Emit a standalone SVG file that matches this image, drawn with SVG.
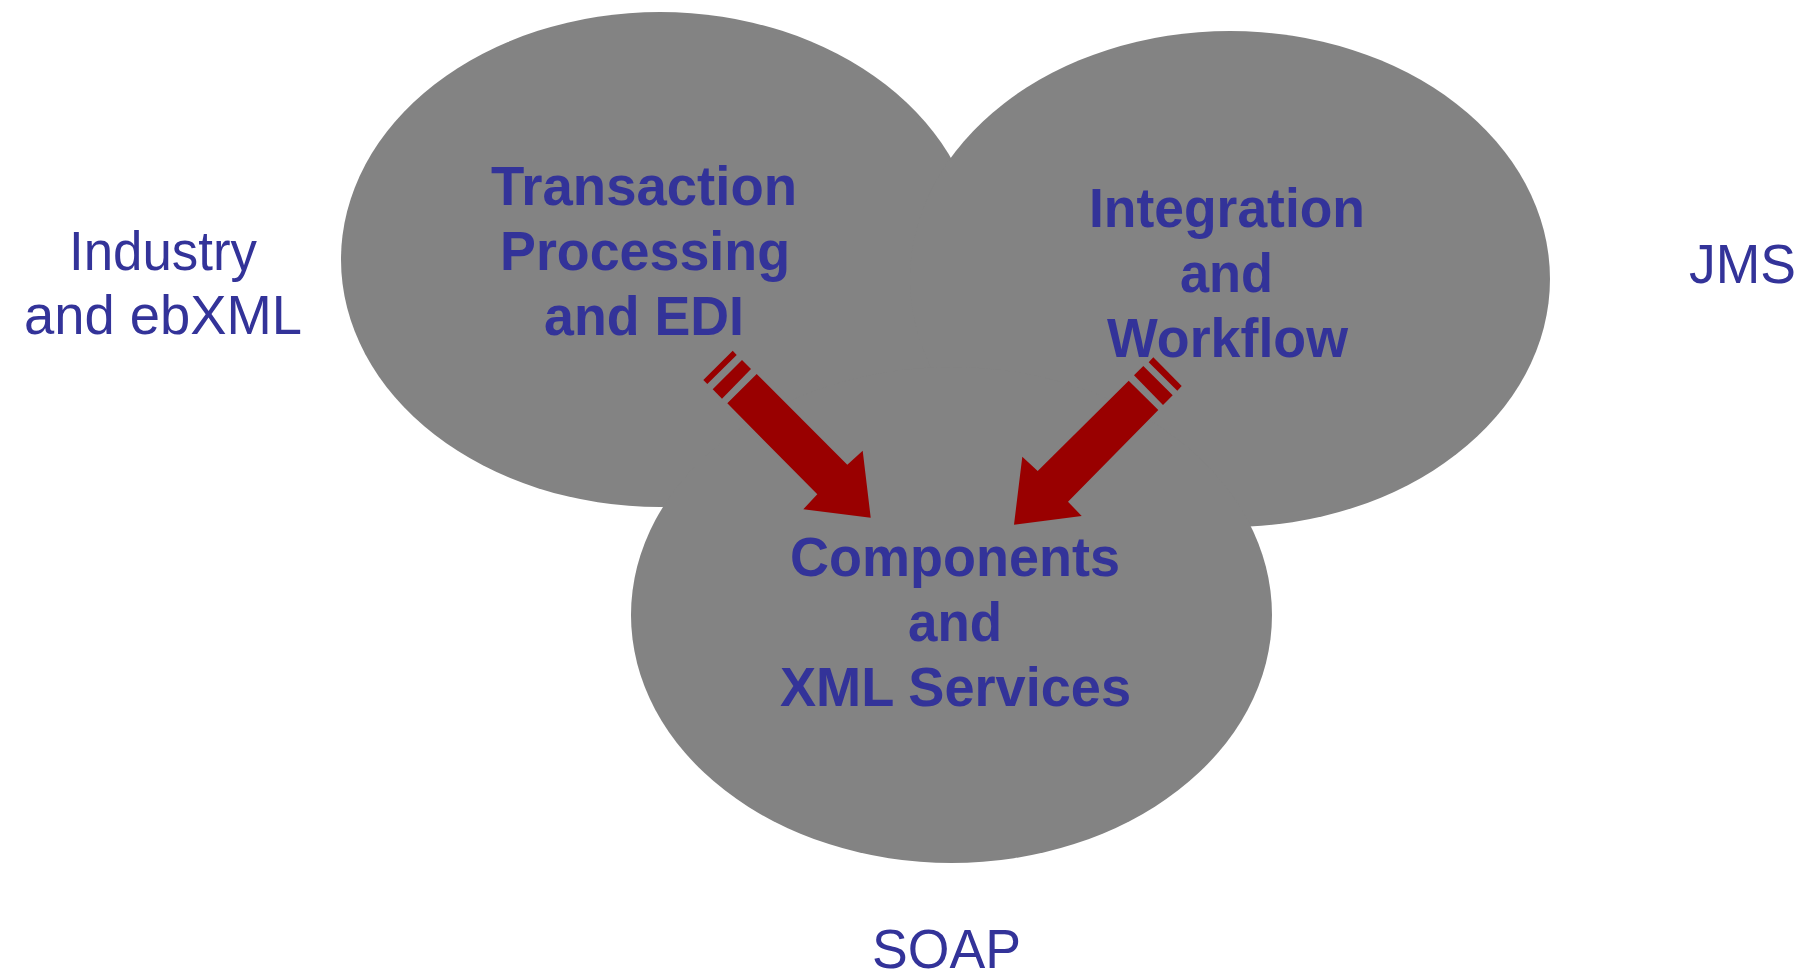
<svg xmlns="http://www.w3.org/2000/svg" width="1806" height="971" viewBox="0 0 1806 971">
<style>
.blob{fill:#838383;}
.t{font-family:"Liberation Sans",Arial,sans-serif;font-size:56px;fill:#333399;}
.b{font-weight:bold;}
.arr{fill:#990000;}
</style>
<rect width="1806" height="971" fill="#ffffff"/>
<g id="node-transaction">
<ellipse class="blob" cx="660" cy="259.5" rx="319" ry="247.5"/>
</g>
<g id="node-integration">
<ellipse class="blob" cx="1230" cy="279" rx="320" ry="248"/>
</g>
<g id="node-components">
<ellipse class="blob" cx="951.5" cy="615" rx="320.5" ry="248"/>
</g>
<g id="labels-inner">
<text class="t b" x="491" y="205" textLength="306" lengthAdjust="spacingAndGlyphs">Transaction</text>
<text class="t b" x="500" y="270" textLength="290" lengthAdjust="spacingAndGlyphs">Processing</text>
<text class="t b" x="544" y="335" textLength="200" lengthAdjust="spacingAndGlyphs">and EDI</text>
<text class="t b" x="1089" y="227" textLength="276" lengthAdjust="spacingAndGlyphs">Integration</text>
<text class="t b" x="1180" y="292" textLength="93" lengthAdjust="spacingAndGlyphs">and</text>
<text class="t b" x="1107" y="357" textLength="241" lengthAdjust="spacingAndGlyphs">Workflow</text>
<text class="t b" x="790" y="576" textLength="330" lengthAdjust="spacingAndGlyphs">Components</text>
<text class="t b" x="908" y="641" textLength="94" lengthAdjust="spacingAndGlyphs">and</text>
<text class="t b" x="780" y="706" textLength="351" lengthAdjust="spacingAndGlyphs">XML Services</text>
</g>
<g id="node-industry">
<text class="t" x="69" y="270" textLength="188" lengthAdjust="spacingAndGlyphs">Industry</text>
<text class="t" x="24" y="334" textLength="278" lengthAdjust="spacingAndGlyphs">and ebXML</text>
</g>
<g id="node-jms">
<text class="t" x="1689" y="283" textLength="107" lengthAdjust="spacingAndGlyphs">JMS</text>
</g>
<g id="node-soap">
<text class="t" x="872" y="968" textLength="149" lengthAdjust="spacingAndGlyphs">SOAP</text>
</g>
<g id="connectors">
<g id="arrow-left">
<polygon class="arr" points="703.3,380 732.7,350.7 736.7,355 707.3,384"/>
<polygon class="arr" points="712.7,389.3 742,360 751,369 722,398.7"/>
<polygon class="arr" points="727.3,403.3 756.7,374 847.3,464.7 862.7,450.7 870.7,517.7 803.3,509.3 817.3,494.3"/>
</g>
<g id="arrow-right">
<polygon class="arr" points="1153.3,357.3 1181.7,386 1177.3,390.7 1148.7,362.3"/>
<polygon class="arr" points="1134,375.3 1143.3,366 1172.7,395.3 1163,405"/>
<polygon class="arr" points="1128.7,380.7 1158.3,410 1068,501.7 1081.7,516 1014,524.7 1022.3,456.7 1037.7,471"/>
</g>
</g>
</svg>
